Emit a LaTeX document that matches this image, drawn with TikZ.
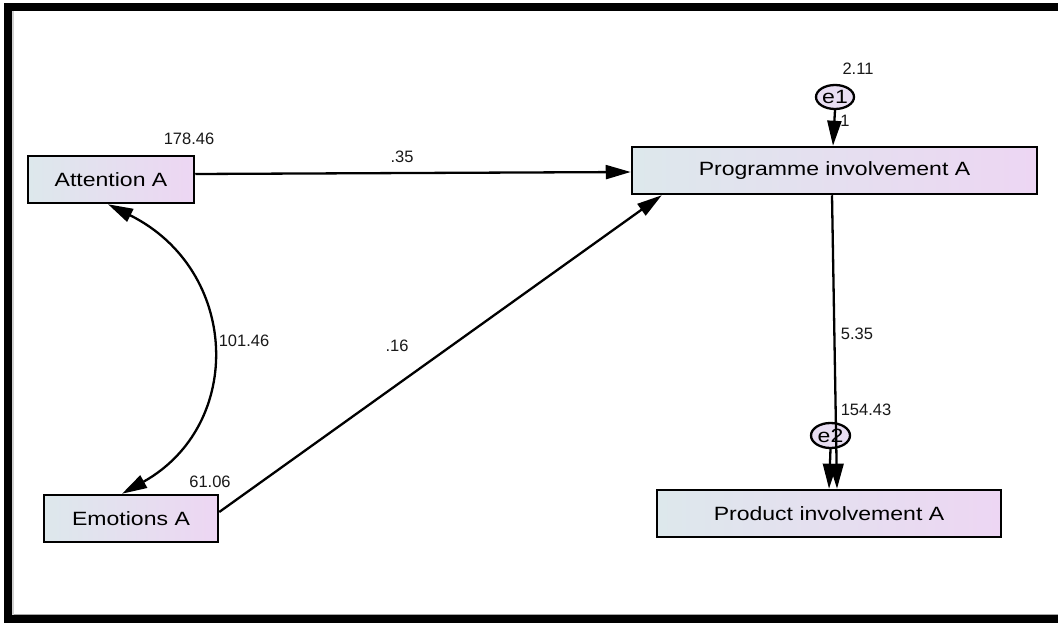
\documentclass[tikz,border=0pt]{standalone}
\usepackage{fontspec}
\setmainfont{Liberation Sans}
\usetikzlibrary{arrows.meta,calc,shapes.geometric}
\definecolor{boxleft}{RGB}{221,232,236}
\definecolor{boxright}{RGB}{237,214,243}
\definecolor{errfill}{RGB}{232,222,242}
\newcommand{\wide}[1]{\scalebox{1.2}[1]{#1}}
\tikzset{
  var/.style={draw=black, line width=2.5pt, rectangle, inner sep=0pt,
    left color=boxleft, right color=boxright, minimum height=47pt,
    font=\fontsize{19.2}{21}\selectfont, text=black},
  err/.style={draw=black, line width=2.3pt, ellipse, inner sep=0pt,
    fill=errfill, font=\fontsize{19.2}{21}\selectfont, text=black},
  est/.style={font=\fontsize{16.5}{18}\selectfont, text=black!90, inner sep=0pt},
  path/.style={line width=2.3pt, -{Triangle[length=25pt,width=14pt]}},
  cov/.style={line width=2.3pt, {Triangle[length=25pt,width=14pt]}-{Triangle[length=25pt,width=14pt]}}
}
\begin{document}
\begin{tikzpicture}[x=1pt,y=-1pt]
  \useasboundingbox (0,0) rectangle (1058,623);
  \fill[white] (0,0) rectangle (1058,623);
  % window frame
  \fill[black] (4,3) rectangle (1058,11);
  \fill[black] (4,3) rectangle (12,623);
  \fill[black] (4,615) rectangle (1058,623);
  \fill[black!18] (12,11) rectangle (14,615);
  \fill[black!35] (14,613.5) rectangle (1058,615);

  % observed variables
  \node[var, minimum width=166pt] (att) at (111,179.5) {\wide{Attention A}};
  \node[var, minimum width=174pt] (emo) at (131,518.5) {\wide{Emotions A}};
  \node[var, minimum width=405pt] (prog) at (834.5,170.5) {\wide{Programme involvement A}};
  \node[var, minimum width=344pt] (prod) at (829,513.5) {\wide{Product involvement A}};

  % error terms
  \node[err, minimum width=38pt, minimum height=24pt] (e1) at (835,97) {\wide{e1}};
  \node[err, minimum width=39pt, minimum height=25pt] (e2) at (830.5,435.5) {\wide{e2}};

  % regression paths
  \draw[path] ([yshift=5.5pt]att.east) -- ([yshift=-1.5pt]prog.west);
  \draw[path] ([yshift=6.5pt]emo.east) -- ([xshift=31pt]prog.south west);
  \draw[path] (e1.south) -- ([xshift=-1.5pt]prog.north);
  \draw[path] (e2.south) -- (prod.north);
  \draw[path] ([xshift=-2.5pt]prog.south) -- ([xshift=8pt]prod.north);

  % covariance
  \draw[cov] ([xshift=-3pt]att.south) .. controls (240,270) and (245,425) .. ([xshift=-9pt]emo.north);

  % estimates
  \node[est] (vatt) at (189,139) {178.46};
  \node[est] (vemo) at (210,482) {61.06};
  \node[est] (cae) at (244,341) {101.46};
  \node[est] (bap) at (402,157) {.35};
  \node[est] (bep) at (397,346) {.16};
  \node[est] (ve1) at (858,69) {2.11};
  \node[est] (w1) at (845,121) {1};
  \node[est] (bpp) at (857,334) {5.35};
  \node[est] (ve2) at (866,410) {154.43};
\end{tikzpicture}
\end{document}
